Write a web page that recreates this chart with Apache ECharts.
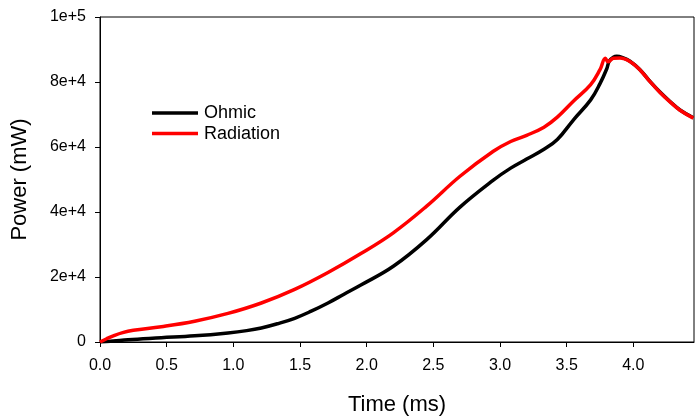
<!DOCTYPE html>
<html>
<head>
<meta charset="utf-8">
<script src="https://cdn.jsdelivr.net/npm/echarts@6/dist/echarts.min.js"></script>
<style>html,body{margin:0;padding:0;background:#fff}#c{width:695px;height:416px}</style>
</head>
<body>
<div id="c"></div>
<script>
// Data
const ohmicT = [0, 0.1, 0.21, 0.46, 0.71, 0.96, 1.1, 1.21, 1.33, 1.46, 1.58, 1.71, 1.83, 1.96, 2.2, 2.45, 2.7, 2.95, 3.08, 3.2, 3.33, 3.43, 3.55, 3.68, 3.75, 3.8, 3.82, 3.85, 3.875, 3.92, 3.975, 4.05, 4.125, 4.2, 4.275, 4.35, 4.45];
const ohmicP = [0, 300, 700, 1300, 1900, 2800, 3500, 4300, 5600, 7300, 9400, 12000, 14700, 17600, 23300, 31500, 41500, 49800, 53500, 56300, 59300, 62300, 68300, 74500, 79500, 84000, 86500, 87600, 87900, 87500, 86400, 83800, 80200, 76900, 74000, 71400, 69000];
const radT = [0, 0.05, 0.1, 0.17, 0.25, 0.46, 0.71, 0.96, 1.21, 1.46, 1.71, 1.96, 2.2, 2.45, 2.7, 2.95, 3.08, 3.2, 3.33, 3.43, 3.55, 3.68, 3.75, 3.79, 3.81, 3.85, 3.9, 3.975, 4.05, 4.125, 4.2, 4.275, 4.35, 4.45];
const radP = [0, 1000, 1900, 2900, 3600, 4700, 6400, 8800, 12000, 16200, 21400, 27300, 33600, 41800, 51000, 58700, 61700, 63600, 66100, 69200, 74100, 79200, 83800, 87300, 86200, 87300, 87400, 86300, 83700, 80100, 76800, 73900, 71300, 68900];
const xTickValues = [0, 0.5, 1.0, 1.5, 2.0, 2.5, 3.0, 3.5, 4.0];
const yTickLabels = ['0', '2e+4', '4e+4', '6e+4', '8e+4', '1e+5'];
const seriesNames = ['Ohmic', 'Radiation'];

const zip = (a, b) => a.map((v, i) => [v, b[i]]);
const font = 'Liberation Sans, Arial, sans-serif';

const chart = echarts.init(document.getElementById('c'), null, {renderer: 'canvas'});
chart.setOption({
  animation: false,
  backgroundColor: '#fff',
  grid: {left: 100, right: 1, top: 17, bottom: 74, show: true, borderColor: '#000', borderWidth: 1, backgroundColor: 'transparent', containLabel: false, outerBoundsMode: 'none'},
  legend: {
    orient: 'vertical', left: 147, top: 99, itemGap: 2.6,
    icon: 'rect', itemWidth: 46, itemHeight: 3.5,
    textStyle: {fontFamily: font, fontSize: 18, lineHeight: 18, color: '#000', padding: [0, 0, 0, 1]},
    data: seriesNames
  },
  xAxis: {
    type: 'value', min: 0, max: 4.455,
    name: 'Time (ms)', nameLocation: 'middle', nameGap: 52,
    nameTextStyle: {fontFamily: font, fontSize: 22, color: '#000'},
    axisLine: {show: true, lineStyle: {color: '#000', width: 1}},
    axisTick: {show: true, inside: false, length: 5, lineStyle: {color: '#000'}, customValues: xTickValues},
    axisLabel: {fontFamily: font, fontSize: 16, color: '#000', margin: 16, customValues: xTickValues, formatter: v => v.toFixed(1)},
    splitLine: {show: false}
  },
  yAxis: {
    type: 'value', min: 0, max: 100000, interval: 20000,
    name: 'Power (mW)', nameLocation: 'middle', nameGap: 69, nameRotate: 90,
    nameTextStyle: {fontFamily: font, fontSize: 22, color: '#000'},
    axisLine: {show: true, lineStyle: {color: '#000', width: 1}},
    axisTick: {show: true, inside: false, length: 5, lineStyle: {color: '#000'}},
    axisLabel: {fontFamily: font, fontSize: 16, color: '#000', margin: 14, formatter: v => yTickLabels[Math.round(v / 20000)]},
    splitLine: {show: false}
  },
  series: [
    {name: seriesNames[0], type: 'line', data: zip(ohmicT, ohmicP), showSymbol: false, smooth: 0.4, color: '#000', lineStyle: {color: '#000', width: 3.5}},
    {name: seriesNames[1], type: 'line', data: zip(radT, radP), showSymbol: false, smooth: 0.4, color: '#ff0000', lineStyle: {color: '#ff0000', width: 3.5}}
  ]
});
</script>
</body>
</html>
